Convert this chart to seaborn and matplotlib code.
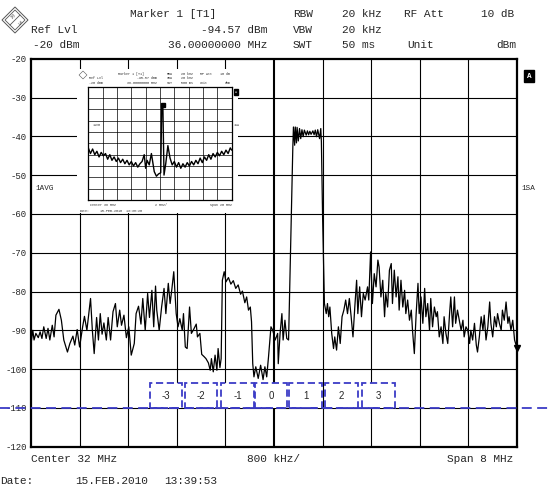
import pandas as pd
import seaborn as sns
import matplotlib.pyplot as plt
from matplotlib.patches import Rectangle, Polygon
from matplotlib.lines import Line2D

# --- trace (MHz / dBm) ---
# left noise floor
freq_low = [28.00, 28.03, 28.05, 28.08, 28.12, 28.15, 28.18, 28.21, 28.25, 28.28,
            28.31, 28.35, 28.38, 28.41, 28.46, 28.50, 28.54, 28.60, 28.64, 28.69,
            28.72, 28.76, 28.80, 28.85, 28.88, 28.92, 28.94, 28.98, 29.01, 29.04,
            29.08, 29.11, 29.14, 29.17, 29.20, 29.24, 29.27, 29.31, 29.35, 29.39,
            29.42, 29.46, 29.49, 29.53, 29.57, 29.61, 29.65, 29.70, 29.73, 29.77,
            29.81, 29.84, 29.88, 29.92, 29.95, 29.99, 30.02, 30.05]
level_low = [-93.5, -90.0, -92.5, -90.8, -91.9, -90.4, -92.1, -89.1, -92.1, -89.5,
             -92.5, -88.7, -91.7, -86.1, -84.6, -87.4, -92.5, -95.6, -93.4, -91.5,
             -93.8, -89.8, -94.3, -89.1, -86.4, -90.0, -87.2, -81.8, -90.0, -96.0,
             -86.7, -92.5, -85.7, -91.0, -88.1, -92.5, -86.7, -92.5, -85.2, -83.1,
             -89.1, -84.8, -88.7, -86.1, -91.9, -89.1, -96.4, -93.4, -85.7, -83.8,
             -88.4, -81.8, -90.0, -80.5, -86.7, -79.7, -89.1, -78.6]

# channels -3 .. 0
freq_mid = [30.07, 30.11, 30.15, 30.19, 30.22, 30.26, 30.29, 30.32, 30.35, 30.39,
            30.42, 30.45, 30.49, 30.51, 30.54, 30.57, 30.61, 30.64, 30.67, 30.72,
            30.74, 30.78, 30.81, 30.85, 30.88, 30.92, 30.95, 30.97, 31.00, 31.03,
            31.06, 31.08, 31.11, 31.13, 31.15, 31.18, 31.21, 31.25, 31.29, 31.33,
            31.37, 31.41, 31.45, 31.48, 31.52, 31.55, 31.58, 31.61, 31.63, 31.65,
            31.67, 31.70, 31.74, 31.78, 31.82, 31.85, 31.88, 31.91, 31.95, 31.98,
            32.02, 32.06]
level_mid = [-84.8, -90.0, -84.0, -79.2, -85.7, -77.9, -83.1, -79.2, -74.9, -85.7,
             -89.1, -87.0, -90.0, -85.7, -94.3, -94.7, -84.0, -90.8, -90.0, -88.4,
             -91.7, -90.8, -96.2, -96.8, -97.3, -98.4, -100.3, -97.3, -100.7, -96.4,
             -100.3, -94.7, -99.6, -97.3, -77.1, -74.9, -77.5, -76.4, -78.1, -77.2,
             -79.2, -78.3, -80.7, -79.9, -82.9, -81.4, -84.8, -84.0, -87.8, -98.6,
             -102.0, -99.4, -102.4, -99.0, -102.7, -99.4, -102.0, -96.8, -89.1, -90.0,
             -92.5, -90.8]

# wanted channel (+1) and channels 2, 3
freq_main = [32.07, 32.10, 32.13, 32.15, 32.18, 32.21, 32.24, 32.31, 32.32, 32.34,
             32.35, 32.37, 32.38, 32.40, 32.42, 32.44, 32.46, 32.48, 32.50, 32.53,
             32.55, 32.57, 32.59, 32.61, 32.64, 32.66, 32.68, 32.70, 32.72, 32.75,
             32.77, 32.78, 32.80, 32.83, 32.86, 32.88, 32.90, 32.92, 32.95, 32.98,
             33.00, 33.03, 33.06, 33.09, 33.12, 33.15, 33.18, 33.21, 33.24, 33.27,
             33.30, 33.33, 33.36, 33.38, 33.41, 33.44, 33.47, 33.50, 33.54, 33.56,
             33.59, 33.62, 33.65, 33.68, 33.71]
level_main = [-98.6, -90.8, -85.7, -92.5, -87.4, -92.1, -92.5, -42.7, -37.6, -42.3,
              -37.6, -41.7, -37.7, -41.2, -38.0, -40.6, -38.3, -40.1, -38.4, -39.7,
              -38.6, -39.6, -38.7, -39.5, -38.6, -39.6, -38.4, -40.1, -38.3, -40.6,
              -38.0, -41.4, -60.8, -83.1, -85.7, -83.1, -86.5, -84.0, -90.8, -94.7,
              -91.7, -95.1, -89.1, -93.4, -86.5, -84.8, -82.2, -85.7, -81.8, -86.5,
              -91.7, -84.0, -77.1, -85.7, -78.8, -86.5, -80.5, -82.2, -78.8, -82.2,
              -69.8, -83.1, -75.4, -78.8, -71.9]

# upper side up to the marker
freq_high = [33.73, 33.76, 33.79, 33.82, 33.84, 33.87, 33.90, 33.93, 33.95, 33.98,
             34.01, 34.04, 34.06, 34.09, 34.12, 34.15, 34.17, 34.20, 34.23, 34.26,
             34.28, 34.31, 34.34, 34.37, 34.39, 34.42, 34.45, 34.48, 34.50, 34.53,
             34.56, 34.58, 34.61, 34.64, 34.67, 34.69, 34.72, 34.75, 34.78, 34.80,
             34.83, 34.86, 34.89, 34.91, 34.94, 34.97, 34.99, 35.02, 35.05, 35.08,
             35.11, 35.13, 35.16, 35.19, 35.22, 35.24, 35.27, 35.30, 35.33, 35.35,
             35.38, 35.41, 35.44, 35.46, 35.49, 35.52, 35.55, 35.57, 35.60, 35.63,
             35.66, 35.68, 35.71, 35.74, 35.76, 35.79, 35.82, 35.85, 35.87, 35.90,
             35.93, 35.96, 36.00]
level_high = [-73.7, -81.4, -77.1, -86.5, -80.5, -84.0, -74.5, -72.8, -83.1, -74.5,
              -81.4, -76.2, -84.8, -77.1, -84.0, -79.7, -85.7, -82.2, -87.4, -84.8,
              -90.0, -96.0, -85.7, -77.9, -85.7, -81.4, -88.2, -79.2, -86.5, -83.1,
              -90.0, -81.8, -89.1, -84.0, -86.5, -85.2, -91.7, -89.1, -93.4, -86.5,
              -90.8, -93.4, -85.7, -81.4, -89.1, -81.4, -88.2, -84.8, -87.4, -90.0,
              -87.4, -91.7, -89.1, -90.0, -93.4, -90.0, -92.5, -88.2, -93.8, -95.6,
              -91.7, -86.5, -90.0, -86.1, -92.5, -89.1, -82.7, -88.2, -91.7, -86.5,
              -89.1, -85.7, -88.2, -90.0, -84.8, -87.4, -82.7, -88.2, -86.5, -90.0,
              -87.4, -92.5, -94.6]

marker_freq = [36.0]
marker_level = [-94.57]

# channel boxes drawn on the screenshot
channel_labels = ["-3", "-2", "-1", "0", "1", "2", "3"]
channel_center = [30.22, 30.80, 31.40, 31.95, 32.52, 33.11, 33.72]
channel_width = 0.53
channel_floor = -110
channel_top = -103.7

y_ticks = [-120, -110, -100, -90, -80, -70, -60, -50, -40, -30, -20]
x_grid = [28.0, 28.8, 29.6, 30.4, 31.2, 32.0, 32.8, 33.6, 34.4, 35.2, 36.0]

# small pasted screenshot (wide span), x in divisions
inset_div = [0.0, 0.15, 0.3, 0.45, 0.6, 0.75, 0.9, 1.05, 1.2, 1.35,
             1.5, 1.65, 1.8, 1.95, 2.1, 2.25, 2.4, 2.55, 2.7, 2.85,
             3.0, 3.15, 3.3, 3.45, 3.6, 3.75, 3.9, 4.0, 4.1, 4.25,
             4.4, 4.5, 4.6, 4.75, 4.9, 5.05, 5.12, 5.2, 5.28, 5.4,
             5.55, 5.7, 5.85, 6.0, 6.15, 6.3, 6.45, 6.6, 6.75, 6.9,
             7.05, 7.2, 7.35, 7.5, 7.65, 7.8, 7.95, 8.1, 8.25, 8.4,
             8.55, 8.7, 8.85, 9.0, 9.15, 9.3, 9.45, 9.6, 9.75, 9.9, 10.0]
inset_dbm = [-74, -79, -75, -80, -77, -82, -78, -81, -79, -84,
             -80, -85, -82, -86, -83, -87, -84, -88, -85, -89,
             -86, -90, -87, -91, -88, -86, -80, -92, -85, -89,
             -79, -87, -95, -99, -97, -96, -37, -37, -98, -88,
             -72, -83, -89, -86, -91, -87, -92, -88, -91, -87,
             -90, -86, -89, -85, -88, -83, -87, -82, -85, -80,
             -84, -79, -82, -78, -81, -77, -80, -76, -79, -74, -76]

trace = pd.DataFrame({
    "freq": freq_low + freq_mid + freq_main + freq_high,
    "level": level_low + level_mid + level_main + level_high,
})
inset = pd.DataFrame({"div": inset_div, "dbm": inset_dbm})

sns.set_style("white")
plt.rcParams["font.family"] = ["Liberation Mono", "DejaVu Sans"]

W, H = 552, 488
BLUE = "#3b3bc6"


def fx(x):
    return x / W


def fy(y):
    return 1 - y / H


fig = plt.figure(figsize=(W / 100, H / 100), dpi=100)
fig.patch.set_facecolor("white")

# ---- main screen ----
ax = fig.add_axes([fx(31), fy(446.7), 486 / W, 388 / H])
for v in x_grid[1:-1]:
    ax.axvline(v, color="black", lw=1.5 if v == 32.0 else 0.8, zorder=1)
for v in y_ticks[1:-1]:
    ax.axhline(v, color="black", lw=0.8, zorder=1)

sns.lineplot(data=trace, x="freq", y="level", ax=ax, color="black", lw=0.9,
             estimator=None, sort=False, zorder=3)
ax.plot(marker_freq, marker_level, marker="v", color="black", ms=4,
        ls="none", clip_on=False, zorder=4)

ax.set_xlim(28, 36)
ax.set_ylim(-120, -20)
ax.set_xticks([])
ax.set_yticks(y_ticks)
ax.set_yticklabels([str(v) for v in y_ticks])
ax.tick_params(axis="y", length=0, pad=3, labelsize=6.5)
ax.set_xlabel("")
ax.set_ylabel("")
for s in ax.spines.values():
    s.set_color("black")
    s.set_linewidth(1.6)

# channel boxes + -110 dBm line
for lab, c in zip(channel_labels, channel_center):
    ax.add_patch(Rectangle((c - channel_width / 2, channel_floor), channel_width,
                           channel_top - channel_floor, facecolor="white",
                           edgecolor=BLUE, lw=1.3, ls=(0, (4, 2)), zorder=5))
    ax.text(c, (channel_floor + channel_top) / 2, lab, ha="center", va="center",
            fontsize=7, family="Liberation Sans", zorder=6)
ax.axhline(channel_floor, xmin=-31 / 486, xmax=521 / 486, color=BLUE, lw=1.3,
           ls=(0, (5.5, 3)), clip_on=False, zorder=6)

fig.text(fx(35), fy(188), "1AVG", fontsize=5.5, va="center", zorder=4)
fig.text(fx(521), fy(188), "1SA", fontsize=5.5, va="center")
fig.text(fx(529), fy(76), "A", fontsize=5.5, ha="center", va="center", color="white",
         fontweight="bold",
         bbox=dict(boxstyle="square,pad=0.35", fc="black", ec="black"))

# header
hdr = 8
fig.text(fx(130), fy(14), "Marker 1 [T1]", fontsize=hdr, va="center")
fig.text(fx(293), fy(14), "RBW", fontsize=hdr, va="center")
fig.text(fx(342), fy(14), "20 kHz", fontsize=hdr, va="center")
fig.text(fx(404), fy(14), "RF Att", fontsize=hdr, va="center")
fig.text(fx(481), fy(14), "10 dB", fontsize=hdr, va="center")
fig.text(fx(31), fy(30), "Ref Lvl", fontsize=hdr, va="center")
fig.text(fx(267), fy(30), "-94.57 dBm", fontsize=hdr, va="center", ha="right")
fig.text(fx(293), fy(30), "VBW", fontsize=hdr, va="center")
fig.text(fx(342), fy(30), "20 kHz", fontsize=hdr, va="center")
fig.text(fx(33), fy(45), "-20 dBm", fontsize=hdr, va="center")
fig.text(fx(267), fy(45), "36.00000000 MHz", fontsize=hdr, va="center", ha="right")
fig.text(fx(293), fy(45), "SWT", fontsize=hdr, va="center")
fig.text(fx(342), fy(45), "50 ms", fontsize=hdr, va="center")
fig.text(fx(407), fy(45), "Unit", fontsize=hdr, va="center")
fig.text(fx(516), fy(45), "dBm", fontsize=hdr, va="center", ha="right")

# footer
fig.text(fx(31), fy(459), "Center 32 MHz", fontsize=hdr, va="center")
fig.text(fx(247), fy(459), "800 kHz/", fontsize=hdr, va="center")
fig.text(fx(513), fy(459), "Span 8 MHz", fontsize=hdr, va="center", ha="right")
fig.text(fx(0), fy(481), "Date:", fontsize=hdr, va="center")
fig.text(fx(75), fy(481), "15.FEB.2010", fontsize=hdr, va="center")
fig.text(fx(164), fy(481), "13:39:53", fontsize=hdr, va="center")

# R&S logo
fig.add_artist(Polygon([(fx(15), fy(7)), (fx(28), fy(20)), (fx(15), fy(33)), (fx(2), fy(20))],
                       closed=True, fill=False, ec="#555555", lw=0.7,
                       transform=fig.transFigure))
fig.add_artist(Polygon([(fx(15), fy(10)), (fx(25), fy(20)), (fx(15), fy(30)), (fx(5), fy(20))],
                       closed=True, fill=False, ec="#555555", lw=0.6,
                       transform=fig.transFigure))
fig.add_artist(Line2D([fx(20), fx(10)], [fy(15), fy(25)], color="#555555", lw=0.6,
                      transform=fig.transFigure))
fig.text(fx(11.5), fy(16.5), "R", fontsize=4.5, rotation=-45, ha="center", va="center",
         color="#444444", family="Liberation Serif")
fig.text(fx(18.5), fy(23.5), "S", fontsize=4.5, rotation=-45, ha="center", va="center",
         color="#444444", family="Liberation Serif")

# ---- pasted wide-span screenshot ----
fig.add_artist(Rectangle((fx(77), fy(213)), 161 / W, 144 / H, transform=fig.transFigure,
                         fc="white", ec="none", zorder=1.5))
ins = fig.add_axes([fx(88.3), fy(200), 143.4 / W, 113.3 / H], zorder=2)
for v in range(1, 10):
    ins.axvline(v, color="black", lw=0.5, zorder=1)
    ins.axhline(-20 - 10 * v, color="black", lw=0.5, zorder=1)
sns.lineplot(data=inset, x="div", y="dbm", ax=ins, color="black", lw=1.0,
             estimator=None, sort=False, zorder=3)
ins.plot([5.18], [-36], marker="s", color="black", ms=2.5, zorder=4)
ins.set_xlim(0, 10)
ins.set_ylim(-120, -20)
ins.set_xticks([])
ins.set_yticks([])
ins.set_xlabel("")
ins.set_ylabel("")
for s in ins.spines.values():
    s.set_color("black")
    s.set_linewidth(0.9)

t = 2.3
fig.text(fx(118), fy(74), "Marker 1 [T1]", fontsize=t, va="center", zorder=3)
fig.text(fx(167), fy(74), "RBW", fontsize=t, va="center", zorder=3)
fig.text(fx(181), fy(74), "20 kHz", fontsize=t, va="center", zorder=3)
fig.text(fx(200), fy(74), "RF Att", fontsize=t, va="center", zorder=3)
fig.text(fx(220), fy(74), "10 dB", fontsize=t, va="center", zorder=3)
fig.text(fx(89), fy(78), "Ref Lvl", fontsize=t, va="center", zorder=3)
fig.text(fx(157), fy(78), "-95.57 dBm", fontsize=t, va="center", ha="right", zorder=3)
fig.text(fx(167), fy(78), "VBW", fontsize=t, va="center", zorder=3)
fig.text(fx(181), fy(78), "20 kHz", fontsize=t, va="center", zorder=3)
fig.text(fx(89), fy(83), "-20 dBm", fontsize=t, va="center", zorder=3)
fig.text(fx(157), fy(83), "36.00000000 MHz", fontsize=t, va="center", ha="right", zorder=3)
fig.text(fx(167), fy(83), "SWT", fontsize=t, va="center", zorder=3)
fig.text(fx(181), fy(83), "500 ms", fontsize=t, va="center", zorder=3)
fig.text(fx(200), fy(83), "Unit", fontsize=t, va="center", zorder=3)
fig.text(fx(231), fy(83), "dBm", fontsize=t, va="center", ha="right", zorder=3)
fig.text(fx(93), fy(125), "1AVG", fontsize=t, va="center", zorder=3)
fig.text(fx(234), fy(125), "1SA", fontsize=t, va="center", zorder=3)
fig.text(fx(236), fy(92), "A", fontsize=t, ha="center", va="center", color="white",
         zorder=3, bbox=dict(boxstyle="square,pad=0.3", fc="black", ec="black"))
fig.text(fx(90), fy(205), "Center 36 MHz", fontsize=t, va="center", zorder=3)
fig.text(fx(155), fy(205), "2 MHz/", fontsize=t, va="center", zorder=3)
fig.text(fx(232), fy(205), "Span 20 MHz", fontsize=t, va="center", ha="right", zorder=3)
fig.text(fx(80), fy(211), "Date:", fontsize=t, va="center", zorder=3)
fig.text(fx(100), fy(211), "15.FEB.2010  13:38:20", fontsize=t, va="center", zorder=3)
fig.add_artist(Polygon([(fx(83), fy(71)), (fx(87), fy(75)), (fx(83), fy(79)), (fx(79), fy(75))],
                       closed=True, fill=False, ec="#555555", lw=0.4,
                       transform=fig.transFigure, zorder=3))

fig.savefig("out.png", dpi=100, facecolor="white")
